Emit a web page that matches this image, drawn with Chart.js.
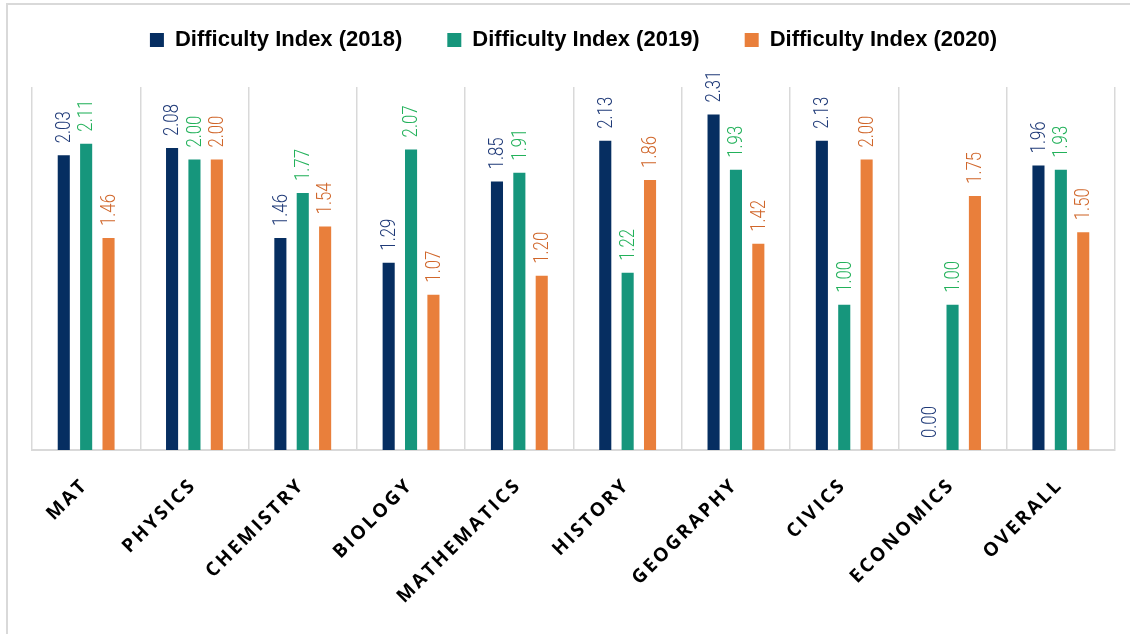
<!DOCTYPE html>
<html lang="en">
<head>
  <meta charset="UTF-8" />
  <title>Difficulty Index by Subject</title>
  <script src="https://cdn.jsdelivr.net/npm/chart.js"></script>
  <style>
    body {
      margin: 0;
      background-color: #ffffff;
    }
    .wrap {
      position: relative;
      width: 1130px;
      height: 634px;
      overflow: hidden;
    }
    /* light frame round the chart, only left and top edges fall inside */
    .frame {
      position: absolute;
      left: 6px;
      top: 3px;
      width: 1200px;
      height: 700px;
      border-left: 2px solid #d9d9d9;
      border-top: 2px solid #d9d9d9;
    }
    #barChart {
      position: absolute;
      left: 0;
      top: 0;
    }
  </style>
</head>
<body>
  <div class="wrap">
    <div class="frame"></div>
    <canvas id="barChart" width="1130" height="634"></canvas>
  </div>

  <script>
    const subjects = ['MAT', 'PHYSICS', 'CHEMISTRY', 'BIOLOGY', 'MATHEMATICS', 'HISTORY', 'GEOGRAPHY', 'CIVICS', 'ECONOMICS', 'OVERALL'];
    const seriesNames = ['Difficulty Index (2018)', 'Difficulty Index (2019)', 'Difficulty Index (2020)'];
    const index2018 = [2.03, 2.08, 1.46, 1.29, 1.85, 2.13, 2.31, 2.13, 0.00, 1.96];
    const index2019 = [2.11, 2.00, 1.77, 2.07, 1.91, 1.22, 1.93, 1.00, 1.00, 1.93];
    const index2020 = [1.46, 2.00, 1.54, 1.07, 1.20, 1.86, 1.42, 2.00, 1.75, 1.50];

    const barColors = ['#062e61', '#16967c', '#e97f3b'];
    const labelColors = ['#1f3a78', '#22b15a', '#d0662a'];

    // Value written vertically above each bar
    const valueLabelPlugin = {
      id: 'valueLabels',
      afterDatasetsDraw(chart) {
        const ctx = chart.ctx;
        chart.data.datasets.forEach((ds, di) => {
          chart.getDatasetMeta(di).data.forEach((bar, i) => {
            ctx.save();
            ctx.translate(bar.x + 1, bar.y - 12);
            ctx.rotate(-Math.PI / 2);
            ctx.scale(0.8, 1);
            ctx.font = '300 21px Roboto, "Liberation Sans", sans-serif';
            ctx.fillStyle = labelColors[di];
            ctx.textAlign = 'left';
            ctx.textBaseline = 'middle';
            ctx.fillText(ds.data[i].toFixed(2), 0, 0);
            ctx.restore();
          });
        });
        // category labels (ticks z: 1) are drawn after this, spaced out
        ctx.letterSpacing = '2.6px';
      },
      afterDraw(chart) {
        chart.ctx.letterSpacing = '0px';
      }
    };

    // Fixed legend height so the plot starts where it should
    const legendHeightPlugin = {
      id: 'legendHeight',
      beforeInit(chart) {
        const fit = chart.legend.fit;
        chart.legend.fit = function () {
          fit.bind(chart.legend)();
          this.height = 103;
        };
      }
    };

    new Chart(document.getElementById('barChart').getContext('2d'), {
      type: 'bar',
      data: {
        labels: subjects,
        datasets: [index2018, index2019, index2020].map((values, k) => ({
          label: seriesNames[k],
          data: values,
          backgroundColor: barColors[k],
          borderWidth: 0,
          categoryPercentage: 0.62,
          barPercentage: 0.54
        }))
      },
      options: {
        responsive: false,
        animation: false,
        layout: { padding: { left: 32, right: 15, top: -16, bottom: 0 } },
        scales: {
          x: {
            grid: { color: '#d9d9d9', lineWidth: 1.5, drawTicks: false },
            border: { color: '#d9d9d9', width: 2 },
            ticks: {
              z: 1,
              minRotation: 45,
              maxRotation: 45,
              autoSkip: false,
              padding: 24,
              labelOffset: -1,
              color: '#000000',
              font: { family: '"Open Sans", sans-serif', size: 19, weight: 'bold' }
            },
            afterFit(scale) { scale.height = 184; }
          },
          y: { display: false, min: 0, max: 2.5 }
        },
        plugins: {
          legend: {
            position: 'top',
            labels: {
              boxWidth: 14,
              boxHeight: 14,
              padding: 45,
              color: '#000000',
              font: { family: '"Liberation Sans", Arial, sans-serif', size: 22, weight: 'bold' }
            }
          },
          tooltip: { enabled: false }
        }
      },
      plugins: [valueLabelPlugin, legendHeightPlugin]
    });
  </script>
</body>
</html>
